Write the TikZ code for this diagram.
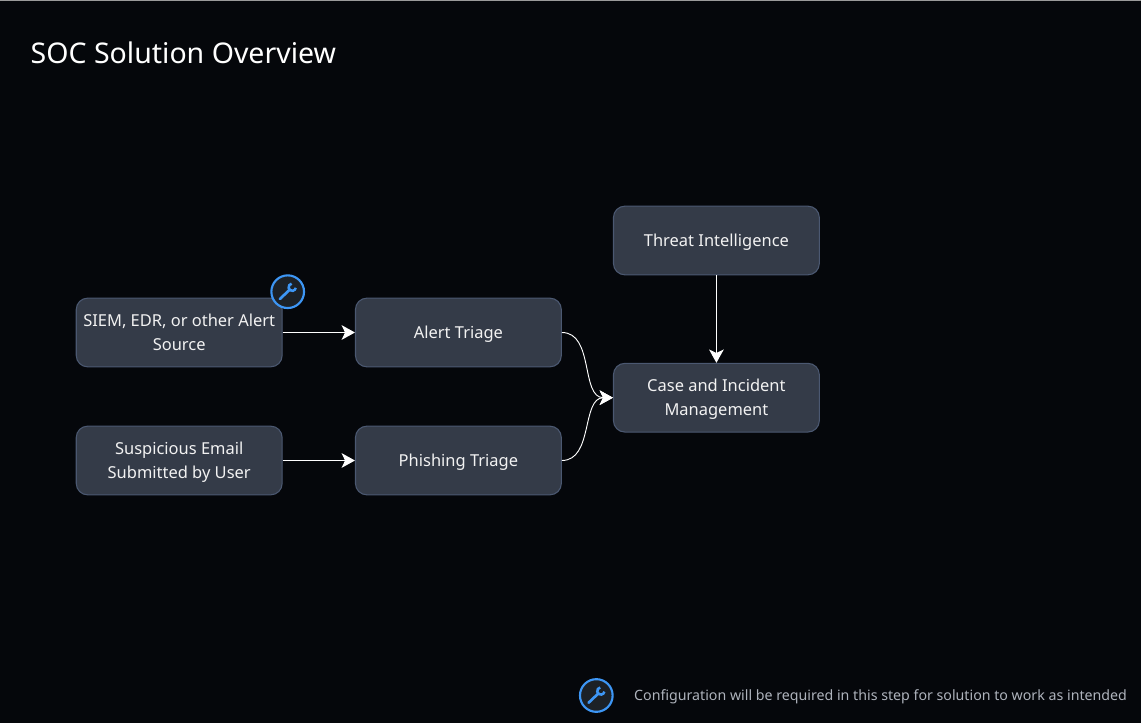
\documentclass[tikz,border=0pt]{standalone}
\usepackage{fontspec}
\setmainfont{Noto Sans}
\usetikzlibrary{positioning,arrows.meta}
\definecolor{pagebg}{HTML}{05070B}
\definecolor{boxfill}{HTML}{343B48}
\definecolor{boxline}{HTML}{4B5871}
\definecolor{badgeblue}{HTML}{3D96F5}
\definecolor{badgefill}{HTML}{1C2127}
\definecolor{legendtext}{HTML}{AEB3BC}
\definecolor{topline}{HTML}{9A9A9A}
\tikzset{
	stepbox/.style={draw=boxline,fill=boxfill,rounded corners=8.5pt,line width=.8pt,minimum width=154.4pt,minimum height=51.5pt,inner sep=0pt,align=center,text=white!95!black,font=\fontsize{12.35}{18}\selectfont,execute at begin node=\strut,text depth=4.2pt},
	twolines/.style={text depth=.4pt},
	badge/.style={circle,draw=badgeblue,fill=badgefill,line width=1.6pt,minimum size=24.5pt,inner sep=0pt},
	flow/.style={draw=white,line width=.85pt,-{Stealth[length=10pt,width=11pt,inset=2.6pt]}},
	curveflow/.style={flow,line width=.7pt},
	wrench/.pic={
		\draw[badgeblue,line width=2pt,line cap=round] (-7.8,-7.3) -- (2,2);
		\draw[badgeblue,line width=1.9pt] (3.9,8) arc[start angle=100,end angle=350,radius=3.6];
	},
}
\begin{document}
\begin{tikzpicture}[x=.75pt,y=.75pt,>=stealth,node distance=65.6pt and 54.2pt]
	\useasboundingbox[fill=pagebg] (0,-723) rectangle (1141,0);
	\fill[topline] (0,-1) rectangle (1141,0);
	% create the nodes
	\node[anchor=west,text=white,font=\fontsize{21.37}{24}\selectfont] (title) at (26,-52.5) {SOC Solution Overview};
	\node[stepbox,twolines] (source) at (179.2,-332.5) {SIEM, EDR, or other Alert\\Source};
	\node[stepbox] (triage) [right =of source] {Alert Triage};
	\node[stepbox,twolines] (email) at (179.2,-460.5) {Suspicious Email\\Submitted by User};
	\node[stepbox] (phishing) [right =of email] {Phishing Triage};
	\node[stepbox] (threat) at (716.4,-240.5) {Threat Intelligence};
	\node[stepbox,twolines] (case) [below =of threat] {Case and Incident\\Management};
	\node[badge] (config) at (287.7,-291.7) {};
	\node[badge] (legend) at (596.3,-695.5) {};
	\node[anchor=west,text=legendtext,font=\fontsize{10.65}{13}\selectfont] (note) at (629.5,-696.5) {Configuration will be required in this step for solution to work as intended};
	\pic at (config) {wrench};
	\pic at (legend) {wrench};

	% connect the nodes
	\draw[flow] (source) to (triage);
	\draw[flow] (email) to (phishing);
	\draw[flow] (threat) to (case);
	\draw[curveflow] (triage) to[out=0,in=180] (case);
	\draw[curveflow] (phishing) to[out=0,in=180] (case);
\end{tikzpicture}
\end{document}
